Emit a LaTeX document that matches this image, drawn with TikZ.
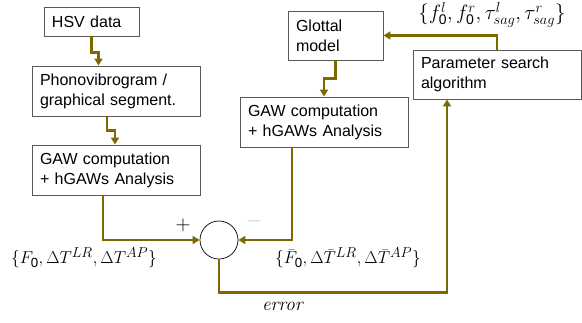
\documentclass[tikz,border=0pt]{standalone}
\usepackage{fontspec}
\setsansfont{Liberation Sans}
\usetikzlibrary{arrows.meta,calc}
\begin{document}
\begin{tikzpicture}[x=1pt,y=-1pt,
  blk/.style={draw=black!65,line width=0.9pt,inner xsep=8pt,inner ysep=2pt,align=left,
    font=\sffamily\fontsize{16}{20}\selectfont,anchor=center},
  flow/.style={draw=olivec,line width=2.6pt,-{Triangle[width=8pt,length=7pt]}},
  lbl/.style={font=\fontsize{19}{22}\selectfont}]
\definecolor{olivec}{RGB}{124,106,0}
\useasboundingbox (0,0) rectangle (582,322);
\node[blk,minimum width=95pt,minimum height=29pt,text width=79pt] (hsv) at (91.5,21.5) {HSV data};
\node[blk,minimum width=168pt,minimum height=50pt,text width=152pt] (pvg) at (116,91) {Phonovibrogram /\\graphical segment.};
\node[blk,minimum width=168pt,minimum height=50pt,text width=152pt] (gawl) at (116,170) {GAW computation\\+ hGAWs Analysis};
\node[blk,minimum width=95pt,minimum height=49pt,text width=79pt] (glot) at (335.5,35.5) {Glottal\\model};
\node[blk,minimum width=168pt,minimum height=49pt,text width=152pt] (par) at (497,74.5) {Parameter search\\algorithm};
\node[blk,minimum width=168pt,minimum height=50pt,text width=152pt] (gawr) at (324,122) {GAW computation\\+ hGAWs Analysis};
\node[draw,circle,minimum size=38pt,inner sep=0pt,line width=0.7pt] (c) at (219,240) {};
\draw[flow] (hsv.south) -- ++(0,16) -| ($(hsv.south |- pvg.north)+(7,0)$);
\draw[flow] ([xshift=-9pt]pvg.south) -- ++(0,14) -| ([xshift=-1pt]gawl.north);
\draw[flow] (glot.south) -- ++(0,18) -| (gawr.north);
\draw[flow] (par.north) |- (glot.east);
\draw[flow] ([xshift=-13pt]gawl.south) |- (c.west);
\draw[flow] ([xshift=-32pt]gawr.south) |- (c.east);
\draw[flow] (c.south) -- ++(0,33) -| ([xshift=-50pt]par.south);
\node[font=\fontsize{22}{24}\selectfont] (plus) at (183,225) {$+$};
\node[font=\fontsize{20}{24}\selectfont,text=black!22] (minus) at (254,221) {$-$};
\node[lbl] (ll) at (84,258) {$\{F_{\mathsf{0}},\Delta T^{LR},\Delta T^{AP}\}$};
\node[lbl] (rl) at (348,258) {$\{\bar{F}_{\mathsf{0}},\Delta \bar{T}^{LR},\Delta \bar{T}^{AP}\}$};
\node[font=\fontsize{20}{22}\selectfont] (tl) at (492,15) {$\{f_{\mathsf{0}}^l,f_{\mathsf{0}}^r,\tau_{sag}^l,\tau_{sag}^r\}$};
\node[font=\fontsize{19}{22}\selectfont] (err) at (283,306) {\textit{error}};
\end{tikzpicture}
\end{document}
